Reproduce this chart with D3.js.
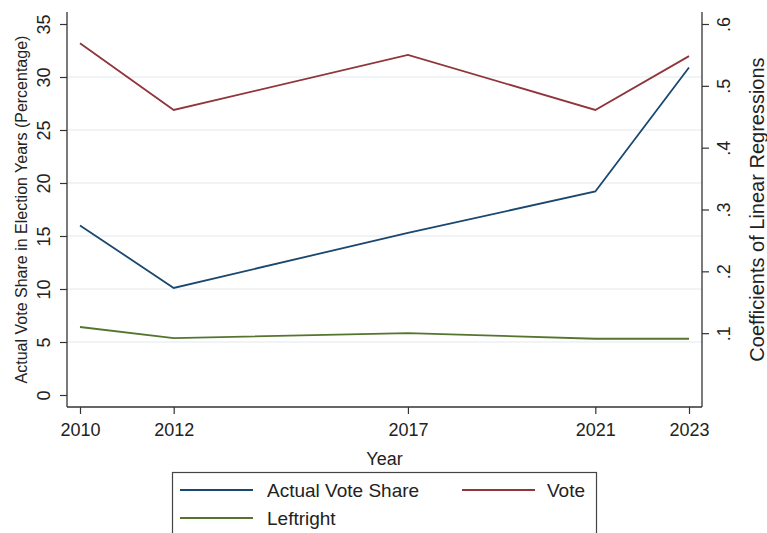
<!DOCTYPE html>
<html>
<head>
<meta charset="utf-8">
<script src="https://cdn.jsdelivr.net/npm/d3@7"></script>
<style>
  html, body { margin: 0; padding: 0; background: #fff; }
  svg { display: block; font-family: "Liberation Sans", Arial, Helvetica, sans-serif; }
</style>
</head>
<body>
<svg id="chart" width="767" height="533"></svg>
<script>
// ---- data ----
const years = [2010, 2012, 2017, 2021, 2023];
const actualVoteShare = [16.0, 10.1, 15.3, 19.2, 30.9];   // left axis (percentage)
const voteCoef = [0.569, 0.461, 0.550, 0.461, 0.548];      // right axis (coefficients)
const leftrightCoef = [0.110, 0.092, 0.100, 0.091, 0.091]; // right axis (coefficients)
const leftTicks = [0, 5, 10, 15, 20, 25, 30, 35];
const rightTicks = [0.1, 0.2, 0.3, 0.4, 0.5, 0.6];
const gridTicks = [5, 10, 15, 20, 25, 30];
const seriesNames = ["Actual Vote Share", "Vote", "Leftright"];
const seriesColors = ["#1a476f", "#90353b", "#55752f"];

// ---- layout ----
const svg = d3.select("#chart");
const frame = { left: 67, right: 702, top: 12, bottom: 407 };

const x = d3.scaleLinear().domain([2010, 2023]).range([80, 689]);
const yL = d3.scaleLinear().domain([0, 35]).range([395, 24]);
const yR = d3.scaleLinear().domain([0, 0.6]).range([395, 24]);

// gridlines
svg.append("g").selectAll("line").data(gridTicks).join("line")
  .attr("x1", frame.left).attr("x2", frame.right)
  .attr("y1", d => yL(d)).attr("y2", d => yL(d))
  .attr("stroke", "#e3eaee").attr("stroke-width", 1.2);

// left axis
const gL = svg.append("g").attr("transform", `translate(${frame.left},0)`)
  .call(d3.axisLeft(yL).tickValues(leftTicks).tickSize(7).tickSizeOuter(0).tickFormat(d3.format("d")));
gL.select(".domain").remove();
gL.append("line").attr("x1", 0).attr("x2", 0).attr("y1", frame.top).attr("y2", frame.bottom)
  .attr("stroke", "#333").attr("stroke-width", 1.3);
gL.selectAll(".tick line").attr("stroke", "#333").attr("stroke-width", 1.2);
gL.selectAll(".tick text")
  .attr("transform", "rotate(-90)")
  .attr("x", 0).attr("y", -17).attr("dy", 0)
  .attr("text-anchor", "middle")
  .attr("font-size", 18).attr("fill", "#222");

// right axis
const gR = svg.append("g").attr("transform", `translate(${frame.right},0)`)
  .call(d3.axisRight(yR).tickValues(rightTicks).tickSize(7).tickSizeOuter(0)
    .tickFormat(d => d3.format(".1f")(d).replace(/^0/, "")));
gR.select(".domain").remove();
gR.append("line").attr("x1", 0).attr("x2", 0).attr("y1", frame.top).attr("y2", frame.bottom)
  .attr("stroke", "#333").attr("stroke-width", 1.3);
gR.selectAll(".tick line").attr("stroke", "#333").attr("stroke-width", 1.2);
gR.selectAll(".tick text")
  .attr("transform", "rotate(-90)")
  .attr("x", 0).attr("y", 28).attr("dy", 0)
  .attr("text-anchor", "middle")
  .attr("font-size", 18).attr("fill", "#222");

// bottom axis
const gB = svg.append("g").attr("transform", `translate(0,${frame.bottom})`)
  .call(d3.axisBottom(x).tickValues(years).tickSize(7).tickSizeOuter(0).tickFormat(d3.format("d")));
gB.select(".domain").remove();
gB.append("line").attr("x1", frame.left).attr("x2", frame.right).attr("y1", 0).attr("y2", 0)
  .attr("stroke", "#333").attr("stroke-width", 1.3);
gB.selectAll(".tick line").attr("stroke", "#333").attr("stroke-width", 1.2);
gB.selectAll(".tick text").attr("y", 29).attr("dy", 0)
  .attr("font-size", 18).attr("fill", "#222");

// axis titles
svg.append("text")
  .attr("transform", `translate(27,${(yL(0) + yL(35)) / 2}) rotate(-90)`)
  .attr("text-anchor", "middle").attr("font-size", 16).attr("fill", "#222")
  .text("Actual Vote Share in Election Years (Percentage)");
svg.append("text")
  .attr("transform", `translate(764,${(frame.top + frame.bottom) / 2}) rotate(-90)`)
  .attr("text-anchor", "middle").attr("font-size", 20).attr("fill", "#222")
  .text("Coefficients of Linear Regressions");
svg.append("text")
  .attr("x", (frame.left + frame.right) / 2).attr("y", 465)
  .attr("text-anchor", "middle").attr("font-size", 18).attr("fill", "#222")
  .text("Year");

// lines
const lineL = d3.line().x((d, i) => x(years[i])).y(d => yL(d));
const lineR = d3.line().x((d, i) => x(years[i])).y(d => yR(d));

svg.append("path").datum(leftrightCoef).attr("d", lineR)
  .attr("fill", "none").attr("stroke", seriesColors[2]).attr("stroke-width", 1.8);
svg.append("path").datum(voteCoef).attr("d", lineR)
  .attr("fill", "none").attr("stroke", seriesColors[1]).attr("stroke-width", 1.8);
svg.append("path").datum(actualVoteShare).attr("d", lineL)
  .attr("fill", "none").attr("stroke", seriesColors[0]).attr("stroke-width", 1.8);

// legend
const lg = svg.append("g");
lg.append("rect").attr("x", 172.5).attr("y", 472.5).attr("width", 424).attr("height", 80)
  .attr("fill", "#fff").attr("stroke", "#444").attr("stroke-width", 1.2);
const legendPos = [
  { kx: 180, tx: 267, y: 490 },
  { kx: 462, tx: 547, y: 490 },
  { kx: 180, tx: 267, y: 518 }
];
seriesNames.forEach((name, i) => {
  const p = legendPos[i];
  lg.append("line").attr("x1", p.kx).attr("x2", p.kx + 73).attr("y1", p.y).attr("y2", p.y)
    .attr("stroke", seriesColors[i]).attr("stroke-width", 1.8);
  lg.append("text").attr("x", p.tx).attr("y", p.y + 7)
    .attr("font-size", 19).attr("fill", "#222").text(name);
});
</script>
</body>
</html>
